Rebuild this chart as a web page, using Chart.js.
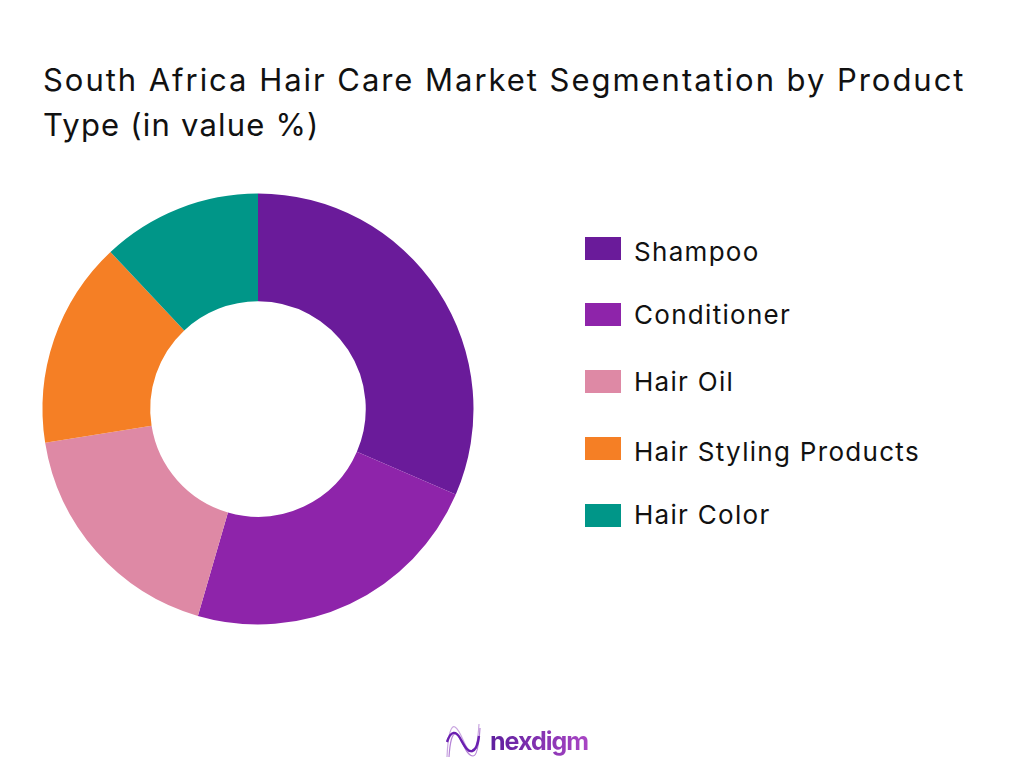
<!DOCTYPE html>
<html>
<head>
<meta charset="utf-8">
<script src="https://cdn.jsdelivr.net/npm/chart.js@4"></script>
<style>
  html, body { margin: 0; padding: 0; background: #fff; }
  #wrap { position: relative; width: 1024px; height: 768px; overflow: hidden; font-family: Inter, "Open Sans", sans-serif; color: #111; }
  #title { position: absolute; left: 43px; top: 57px; width: 975px; font-size: 31px; line-height: 45px; white-space: nowrap; }
  #title .first { letter-spacing: 1.96px; }
  #title .second { letter-spacing: 1.2px; }
  #pie { position: absolute; left: 28px; top: 179px; width: 460px; height: 460px; }
  .swatch { position: absolute; left: 585px; width: 36px; height: 23px; }
  .label { position: absolute; left: 634px; font-size: 26px; line-height: 32px; letter-spacing: 1.3px; white-space: nowrap; }
  #logo { position: absolute; left: 445px; top: 722px; width: 150px; height: 38px; }
  #logoText { position: absolute; left: 45px; top: 1px; font-size: 25px; line-height: 36px; font-weight: 700; letter-spacing: -1px; color: transparent; background: linear-gradient(90deg, #5e1f9e, #a945c4); -webkit-background-clip: text; background-clip: text; }
</style>
</head>
<body>
<div id="wrap">
  <div id="title"><span class="first">South Africa Hair Care Market Segmentation by Product</span><br><span class="second">Type (in value %)</span></div>
  <div id="pie"><canvas id="chart" width="460" height="460"></canvas></div>
  <div id="legend"></div>
  <div id="logo">
    <svg width="36" height="38" viewBox="0 0 36 38">
      <path d="M2 35 C3 12 6 3 10 5 C17 9 20 30 27 30 C31 30 33 18 34 2" fill="none" stroke="#c9a6e0" stroke-width="1.2"/>
      <path d="M4 35 C5 20 7 11 11 12 C17 14 20 34 28 34 C32 34 34 22 35 6" fill="none" stroke="#b583d6" stroke-width="1.2"/>
      <path d="M2 20 C6 8 11 9 15 16 C19 23 22 30 27 29 C31 28 33 22 34 14" fill="none" stroke="#6a1fb0" stroke-width="2.4"/>
    </svg>
    <div id="logoText">nexdigm</div>
  </div>
</div>
<script>
const categories = ['Shampoo', 'Conditioner', 'Hair Oil', 'Hair Styling Products', 'Hair Color'];
const shares = [31.5, 23, 18, 15.5, 12];
const sliceColors = ['#6a1b9a', '#8e24aa', '#de89a5', '#f57f25', '#009688'];

const swatchTops = [237, 303, 370, 437, 504];
const labelTops = [236, 299, 366, 436, 499];

const legend = document.getElementById('legend');
categories.forEach((name, i) => {
  const swatch = document.createElement('div');
  swatch.className = 'swatch';
  swatch.style.top = swatchTops[i] + 'px';
  swatch.style.background = sliceColors[i];
  legend.appendChild(swatch);
  const label = document.createElement('div');
  label.className = 'label';
  label.style.top = labelTops[i] + 'px';
  label.textContent = name;
  legend.appendChild(label);
});

new Chart(document.getElementById('chart'), {
  type: 'doughnut',
  data: {
    labels: categories,
    datasets: [{
      data: shares,
      backgroundColor: sliceColors,
      borderWidth: 0
    }]
  },
  options: {
    responsive: false,
    animation: false,
    cutout: '50%',
    layout: { padding: 14.5 },
    plugins: {
      legend: { display: false },
      tooltip: { enabled: false }
    }
  }
});
</script>
</body>
</html>
